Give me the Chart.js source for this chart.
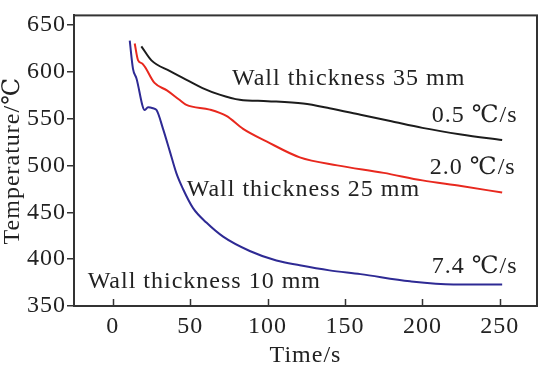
<!DOCTYPE html>
<html>
<head>
<meta charset="utf-8">
<script src="https://cdn.jsdelivr.net/npm/chart.js@4.4.0/dist/chart.umd.min.js"></script>
<style>
  html, body { margin: 0; padding: 0; background: #fff; }
  #wrap { width: 539px; height: 368px; }
</style>
</head>
<body>
<div id="wrap"><canvas id="tempChart"></canvas></div>
<script>
// time (s) and temperature (°C)
const time35 = [18.5, 25, 37, 48, 58, 69, 82, 100, 123, 140, 160, 180, 200, 225, 251.5];
const temp35 = [627, 612, 600.5, 591, 582.5, 575.5, 570, 568.5, 566, 561, 554, 547, 540, 533, 527];

const time25 = [14.2, 16.4, 19.2, 27, 35, 43.3, 47.6, 62.7, 73.4, 84.2, 99.3, 120.8, 145, 175, 200, 225, 251.5];
const temp25 = [630, 612, 608.5, 588, 580, 569.7, 564.6, 559.5, 552.7, 539, 525.6, 508.6, 500, 492, 484, 478, 471];

const time10 = [11, 13.1, 15.3, 20.7, 22.8, 26, 28.3, 32.5, 36.8, 41.1, 45.4, 51.9, 60.5, 71.3, 88.5, 105.7, 120.8, 140, 160, 192, 220, 251.5];
const temp10 = [633, 603, 593, 559, 562, 561, 559, 539, 515.5, 491.7, 474.8, 454.4, 439, 424, 408.7, 398.5, 393.4, 388, 384, 376.4, 373, 373];

const xTicks = [0, 50, 100, 150, 200, 250];
const yTicks = [350, 400, 450, 500, 550, 600, 650];

// text labels in the plot, anchored at data coords (left edge, middle)
const notes = [
    { text: 'Wall thickness 35 mm', x: 77, y: 593 },
    { text: '0.5 \u2103/s', x: 206, y: 553.4 },
    { text: '2.0 \u2103/s', x: 204.8, y: 497.5 },
    { text: 'Wall thickness 25 mm', x: 47.8, y: 474 },
    { text: 'Wall thickness 10 mm', x: -16.2, y: 376.4 },
    { text: '7.4 \u2103/s', x: 206, y: 391.7 }
];

const FONT = "'Liberation Serif', 'DejaVu Serif', 'Noto Sans CJK SC', serif";
const INK = '#222';
const SPACING = '1px';
const SIZE = 24;

function toPoints(xs, ys) {
    return xs.map((x, i) => ({ x: x, y: ys[i] }));
}

function lineSet(label, xs, ys, color) {
    return {
        label: label,
        data: toPoints(xs, ys),
        borderColor: color,
        borderWidth: 2,
        pointRadius: 0,
        showLine: true,
        fill: false,
        cubicInterpolationMode: 'monotone'
    };
}

const spacingPlugin = {
    id: 'spacing',
    beforeDraw(chart) {
        chart.ctx.letterSpacing = SPACING;
    }
};

const framePlugin = {
    id: 'frame',
    afterDraw(chart) {
        const ctx = chart.ctx;
        const a = chart.chartArea;
        const xs = chart.scales.x;
        ctx.save();
        ctx.strokeStyle = '#333';
        ctx.lineWidth = 1.5;
        // inward ticks on the time axis
        xTicks.forEach(v => {
            const px = Math.round(xs.getPixelForValue(v)) + 0.5;
            ctx.beginPath();
            ctx.moveTo(px, a.bottom);
            ctx.lineTo(px, a.bottom - 7);
            ctx.stroke();
        });
        ctx.lineWidth = 2;
        ctx.strokeRect(a.left, a.top, a.right - a.left, a.bottom - a.top);
        ctx.restore();
    }
};

const notesPlugin = {
    id: 'notes',
    afterDatasetsDraw(chart) {
        const ctx = chart.ctx;
        const xs = chart.scales.x;
        const ys = chart.scales.y;
        ctx.save();
        ctx.font = SIZE + 'px ' + FONT;
        ctx.fillStyle = INK;
        ctx.textAlign = 'left';
        ctx.textBaseline = 'middle';
        ctx.letterSpacing = SPACING;
        notes.forEach(n => {
            ctx.fillText(n.text, xs.getPixelForValue(n.x), ys.getPixelForValue(n.y));
        });
        ctx.restore();
    }
};

window.onload = function() {
    const ctx = document.getElementById('tempChart').getContext('2d');
    new Chart(ctx, {
        type: 'scatter',
        data: {
            datasets: [
                lineSet('Wall thickness 35 mm', time35, temp35, '#1c1c1c'),
                lineSet('Wall thickness 25 mm', time25, temp25, '#e8281e'),
                lineSet('Wall thickness 10 mm', time10, temp10, '#2e2a94')
            ]
        },
        options: {
            responsive: true,
            maintainAspectRatio: false,
            animation: false,
            layout: { padding: { top: 1, right: 2, left: 0, bottom: 0 } },
            plugins: {
                legend: { display: false },
                tooltip: { enabled: false }
            },
            scales: {
                x: {
                    type: 'linear',
                    min: -25,
                    max: 274,
                    afterBuildTicks: s => { s.ticks = xTicks.map(v => ({ value: v })); },
                    afterFit: s => { s.height = 62; },
                    grid: { display: false, drawTicks: false },
                    border: { display: true, color: '#333', width: 2 },
                    ticks: {
                        color: INK,
                        padding: 6,
                        maxRotation: 0,
                        font: { family: FONT, size: SIZE }
                    },
                    title: {
                        display: true,
                        text: 'Time/s',
                        color: INK,
                        padding: 0,
                        font: { family: FONT, size: SIZE, lineHeight: 1.0 }
                    }
                },
                y: {
                    type: 'linear',
                    min: 350,
                    max: 660,
                    afterBuildTicks: s => { s.ticks = yTicks.map(v => ({ value: v })); },
                    afterFit: s => { s.width = 74; },
                    grid: { drawOnChartArea: false, drawTicks: true, tickLength: 7, color: '#333', lineWidth: 1.5 },
                    border: { display: true, color: '#333', width: 2 },
                    ticks: {
                        color: INK,
                        padding: 1,
                        font: { family: FONT, size: SIZE }
                    },
                    title: {
                        display: true,
                        text: 'Temperature/\u2103',
                        color: INK,
                        padding: 0,
                        font: { family: FONT, size: SIZE, lineHeight: 1.05 }
                    }
                }
            }
        },
        plugins: [spacingPlugin, framePlugin, notesPlugin]
    });
};
</script>
</body>
</html>
